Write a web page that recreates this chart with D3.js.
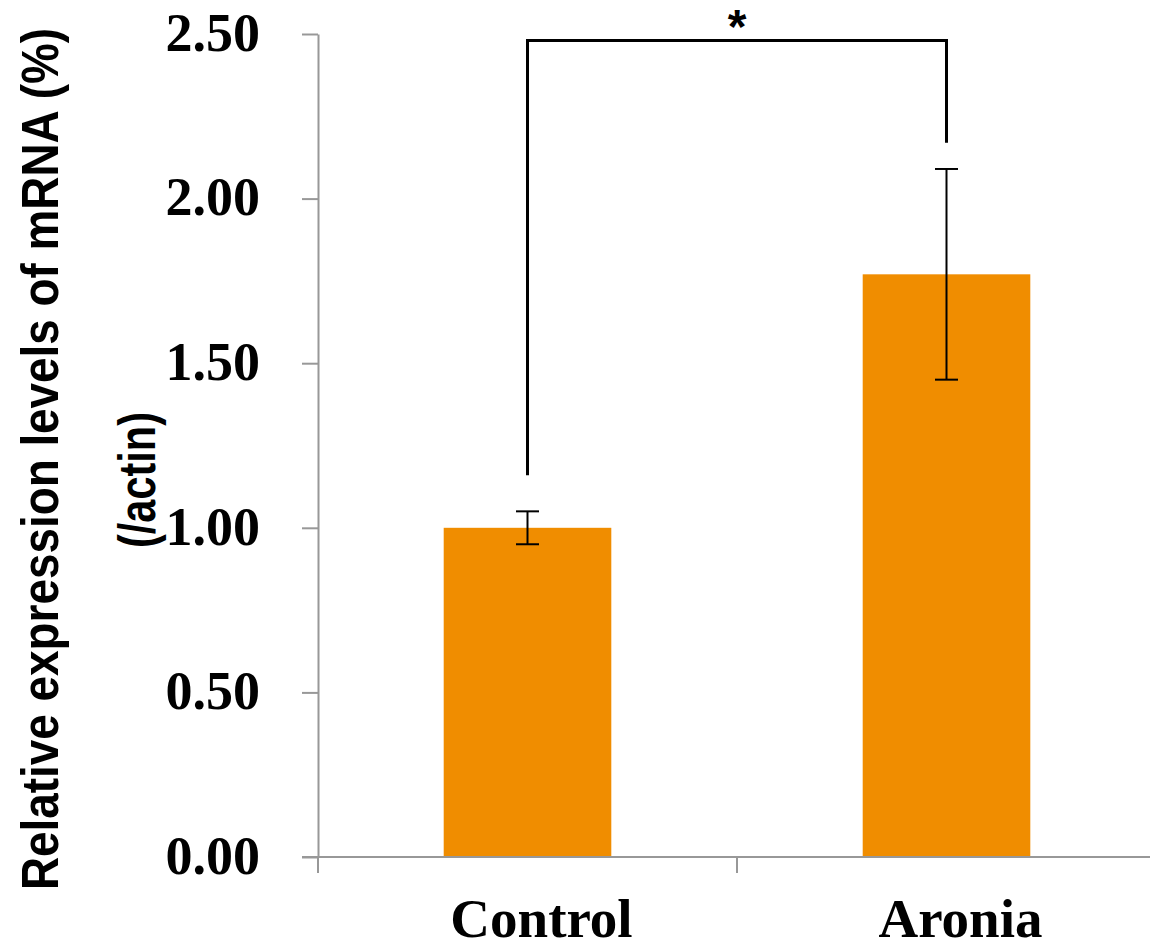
<!DOCTYPE html>
<html>
<head>
<meta charset="utf-8">
<script src="https://cdn.jsdelivr.net/npm/d3@7"></script>
<style>
  body { margin: 0; background: #fff; }
  .ylab { font-family: "Liberation Serif", "Times New Roman", serif; font-weight: bold; font-size: 54px; fill: #000; }
  .xlab { font-family: "Liberation Serif", "Times New Roman", serif; font-weight: bold; font-size: 55px; fill: #000; }
  .ytitle { font-family: "Liberation Sans", Arial, sans-serif; font-weight: bold; font-size: 52px; fill: #000; }
</style>
</head>
<body>
<div id="chart"></div>
<script>
// data
var categories = ["Control", "Aronia"];
var means = [1.00, 1.77];
var errors = [0.05, 0.32];
var yTicks = [0, 0.5, 1.0, 1.5, 2.0, 2.5];
// significance bracket: y values of left leg end, right leg end, top bar
var bracketPair = ["Control", "Aronia"];
var bracketLevels = [1.16, 2.17, 2.48];
var bracketLabel = "*";

var width = 1150, height = 943;
// plot area (note: "top" is reserved on window, so use other names)
var plotLeft = 318, plotRight = 1156, plotTop = 34, plotBottom = 857;

var svg = d3.select("#chart").append("svg")
	.attr("width", width)
	.attr("height", height);

var x = d3.scaleBand().domain(categories).range([plotLeft, plotRight]).padding(0);
var y = d3.scaleLinear().domain([0, 2.5]).range([plotBottom, plotTop]);
var barW = x.bandwidth() * 0.4;
var axisColor = "#989898";

//---------------- bars ----------------
svg.selectAll(".bar")
	.data(categories)
	.enter().append("rect")
	.attr("class", "bar")
	.attr("x", function(d) { return x(d) + (x.bandwidth() - barW) / 2; })
	.attr("width", barW)
	.attr("y", function(d, i) { return y(means[i]); })
	.attr("height", function(d, i) { return y(0) - y(means[i]); })
	.style("fill", "#F08D00");

//---------------- y axis ----------------
var yAxis = d3.axisLeft(y)
	.tickValues(yTicks)
	.tickSizeInner(16)
	.tickSizeOuter(0)
	.tickPadding(42)
	.tickFormat(d3.format(".2f"));

var gy = svg.append("g")
	.attr("transform", "translate(" + plotLeft + ",0)")
	.call(yAxis);
gy.attr("font-family", null).attr("font-size", null);
gy.select(".domain").attr("stroke", axisColor).attr("stroke-width", 2);
gy.selectAll(".tick line").attr("stroke", axisColor).attr("stroke-width", 2);
gy.selectAll(".tick text")
	.attr("class", "ylab")
	.attr("fill", null)
	.attr("dy", "0.3em");

//---------------- x axis ----------------
var gx = svg.append("g");
gx.append("line")
	.attr("x1", plotLeft - 16).attr("x2", plotRight)
	.attr("y1", y(0)).attr("y2", y(0))
	.attr("stroke", axisColor).attr("stroke-width", 2);
var bounds = categories.map(function(d) { return x(d); }).concat([x(categories[categories.length - 1]) + x.bandwidth()]);
gx.selectAll(".xtick")
	.data(bounds)
	.enter().append("line")
	.attr("x1", function(d) { return d; }).attr("x2", function(d) { return d; })
	.attr("y1", y(0)).attr("y2", y(0) + 16)
	.attr("stroke", axisColor).attr("stroke-width", 2);
gx.selectAll(".xlab")
	.data(categories)
	.enter().append("text")
	.attr("class", "xlab")
	.attr("x", function(d) { return x(d) + x.bandwidth() / 2 + 14; })
	.attr("y", 937)
	.attr("text-anchor", "middle")
	.text(function(d) { return d; });

//---------------- error bars ----------------
var eb = svg.selectAll(".err")
	.data(categories)
	.enter().append("g")
	.attr("class", "err")
	.attr("stroke", "#000")
	.attr("stroke-width", 2);
eb.append("line")
	.attr("x1", function(d) { return x(d) + x.bandwidth() / 2; })
	.attr("x2", function(d) { return x(d) + x.bandwidth() / 2; })
	.attr("y1", function(d, i) { return y(means[i] + errors[i]); })
	.attr("y2", function(d, i) { return y(means[i] - errors[i]); });
[1, -1].forEach(function(s) {
	eb.append("line")
		.attr("x1", function(d) { return x(d) + x.bandwidth() / 2 - 11.5; })
		.attr("x2", function(d) { return x(d) + x.bandwidth() / 2 + 11.5; })
		.attr("y1", function(d, i) { return y(means[i] + s * errors[i]); })
		.attr("y2", function(d, i) { return y(means[i] + s * errors[i]); });
});

//---------------- significance bracket ----------------
var bx1 = x(bracketPair[0]) + x.bandwidth() / 2;
var bx2 = x(bracketPair[1]) + x.bandwidth() / 2;
svg.append("path")
	.attr("d", d3.line()([[bx1, y(bracketLevels[0])], [bx1, y(bracketLevels[2])], [bx2, y(bracketLevels[2])], [bx2, y(bracketLevels[1])]]))
	.attr("fill", "none")
	.attr("stroke", "#000")
	.attr("stroke-width", 3);
svg.append("text")
	.attr("x", (bx1 + bx2) / 2)
	.attr("y", 43)
	.attr("text-anchor", "middle")
	.style("font-family", "Liberation Sans, Arial, sans-serif")
	.style("font-weight", "bold")
	.style("font-size", "48px")
	.text(bracketLabel);

//---------------- y title ----------------
svg.append("text")
	.attr("class", "ytitle")
	.attr("transform", "translate(58,459) rotate(-90)")
	.attr("text-anchor", "middle")
	.attr("textLength", 862)
	.attr("lengthAdjust", "spacingAndGlyphs")
	.text("Relative expression levels of mRNA (%)");
svg.append("text")
	.attr("class", "ytitle")
	.attr("transform", "translate(155,480) rotate(-90)")
	.attr("text-anchor", "middle")
	.attr("textLength", 136)
	.attr("lengthAdjust", "spacingAndGlyphs")
	.text("(/actin)");
</script>
</body>
</html>
